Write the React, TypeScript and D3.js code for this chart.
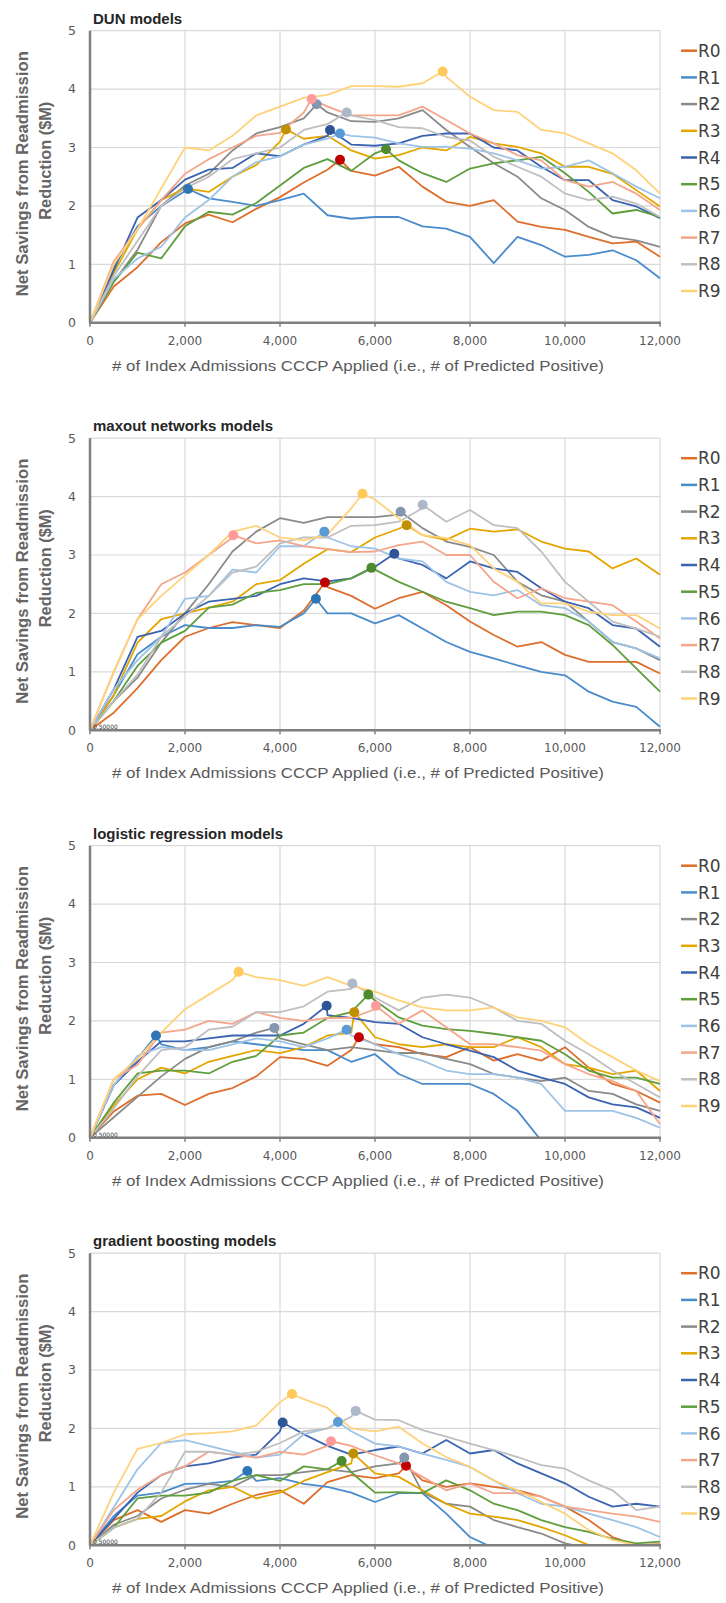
import React from "react";
import * as d3 from "d3";

// x grid shared by every series (# of predicted positive)
const xValues = [
  0, 500, 1000, 1500, 2000, 2500, 3000, 3500, 4000, 4500, 5000, 5500, 6000,
  6500, 7000, 7500, 8000, 8500, 9000, 9500, 10000, 10500, 11000, 11500, 12000,
];
const seriesNames = ["R0", "R1", "R2", "R3", "R4", "R5", "R6", "R7", "R8", "R9"];
const lineColors = [
  "#DD6E2B", "#4A8BCB", "#8A8A8A", "#E3A600", "#3A63B0",
  "#5E9E3C", "#9DC3E6", "#F4A58A", "#BFBFBF", "#FFD27A",
];
const markerColors = [
  "#C00000", "#2E75B6", "#8497B0", "#BF9000", "#2F5597",
  "#4E8A2E", "#5B9BD5", "#FF9B9B", "#ADB9CA", "#FFC95C",
];
const yTicks = [0, 1, 2, 3, 4, 5];
const xTicks = [0, 2000, 4000, 6000, 8000, 10000, 12000];
const panelTitles = [
  "DUN models",
  "maxout networks models",
  "logistic regression models",
  "gradient boosting models",
];

// DUN models
const dunValues = [
  [0, 0.62, 0.95, 1.38, 1.7, 1.85, 1.72, 1.95, 2.15, 2.4, 2.62, 2.6, 2.52, 2.67, 2.33, 2.07, 2.0, 2.1, 1.73, 1.64, 1.59, 1.47, 1.36, 1.39, 1.13],
  [0, 0.95, 1.65, 2.0, 2.25, 2.13, 2.07, 2.0, 2.1, 2.21, 1.84, 1.78, 1.81, 1.81, 1.65, 1.61, 1.47, 1.02, 1.47, 1.33, 1.13, 1.16, 1.24, 1.07, 0.76],
  [0, 0.7, 1.25, 2.0, 2.35, 2.55, 2.95, 3.24, 3.35, 3.5, 3.6, 3.45, 3.44, 3.5, 3.64, 3.3, 3.01, 2.73, 2.5, 2.13, 1.93, 1.64, 1.47, 1.41, 1.3],
  [0, 0.85, 1.6, 2.1, 2.3, 2.24, 2.5, 2.7, 3.1, 3.15, 3.2, 2.95, 2.81, 2.87, 3.0, 2.95, 3.18, 3.07, 3.01, 2.9, 2.67, 2.67, 2.55, 2.27, 1.99],
  [0, 0.9, 1.8, 2.1, 2.45, 2.62, 2.65, 2.9, 2.85, 3.05, 3.2, 3.05, 3.03, 3.07, 3.2, 3.24, 3.24, 3.0, 2.95, 2.67, 2.44, 2.44, 2.1, 1.99, 1.79],
  [0, 0.7, 1.2, 1.1, 1.65, 1.9, 1.85, 2.05, 2.35, 2.65, 2.8, 2.6, 2.9, 2.78, 2.56, 2.41, 2.64, 2.73, 2.78, 2.84, 2.56, 2.24, 1.87, 1.93, 1.81],
  [0, 0.75, 1.1, 1.3, 1.8, 2.1, 2.5, 2.75, 2.85, 3.05, 3.15, 3.2, 3.17, 3.07, 3.01, 3.01, 2.98, 2.9, 2.78, 2.64, 2.67, 2.78, 2.56, 2.33, 2.13],
  [0, 1.05, 1.6, 2.1, 2.55, 2.8, 3.0, 3.2, 3.25, 3.6, 3.7, 3.55, 3.55, 3.55, 3.7, 3.47, 3.24, 3.07, 2.87, 2.78, 2.44, 2.33, 2.41, 2.21, 1.93],
  [0, 0.8, 1.4, 2.0, 2.3, 2.5, 2.8, 2.9, 3.0, 3.3, 3.4, 3.55, 3.47, 3.35, 3.33, 3.18, 3.12, 2.84, 2.67, 2.5, 2.21, 2.1, 2.16, 2.04, 1.81],
  [0, 1.0, 1.6, 2.3, 3.0, 2.95, 3.2, 3.55, 3.7, 3.85, 3.9, 4.05, 4.05, 4.04, 4.1, 4.21, 3.87, 3.64, 3.61, 3.3, 3.24, 3.07, 2.9, 2.61, 2.21],
];
const dunPeakX = [5263, 2063, 4772, 4126, 5053, 6232, 5263, 4667, 5404, 7425];
const dunPeakY = [2.79, 2.29, 3.74, 3.31, 3.3, 2.97, 3.24, 3.83, 3.6, 4.3];

// maxout networks models
const maxoutValues = [
  [0, 0.3, 0.72, 1.2, 1.6, 1.75, 1.85, 1.8, 1.75, 2.05, 2.45, 2.3, 2.08, 2.26, 2.37, 2.14, 1.86, 1.63, 1.43, 1.51, 1.29, 1.17, 1.17, 1.17, 0.97],
  [0, 0.6, 1.3, 1.6, 1.8, 1.75, 1.75, 1.8, 1.77, 2.0, 2.0, 2.0, 1.83, 1.97, 1.74, 1.51, 1.34, 1.23, 1.11, 1.0, 0.94, 0.66, 0.49, 0.4, 0.06],
  [0, 0.5, 0.9, 1.5, 2.0, 2.5, 3.06, 3.4, 3.63, 3.55, 3.65, 3.65, 3.65, 3.69, 3.46, 3.23, 3.14, 3.0, 2.54, 2.31, 2.2, 1.86, 1.51, 1.4, 1.2],
  [0, 0.6, 1.5, 1.9, 2.0, 2.1, 2.2, 2.5, 2.57, 2.85, 3.1, 3.05, 3.3, 3.45, 3.34, 3.26, 3.45, 3.4, 3.44, 3.23, 3.11, 3.06, 2.77, 2.94, 2.66],
  [0, 0.7, 1.6, 1.7, 2.0, 2.2, 2.25, 2.3, 2.5, 2.6, 2.55, 2.6, 2.8, 2.94, 2.83, 2.6, 2.89, 2.77, 2.71, 2.43, 2.2, 2.09, 1.8, 1.74, 1.43],
  [0, 0.5, 1.1, 1.5, 1.7, 2.1, 2.15, 2.35, 2.4, 2.5, 2.5, 2.6, 2.75, 2.54, 2.37, 2.2, 2.09, 1.97, 2.03, 2.03, 1.97, 1.8, 1.46, 1.06, 0.66],
  [0, 0.7, 1.2, 1.6, 2.25, 2.3, 2.75, 2.7, 3.15, 3.15, 3.3, 3.15, 3.11, 2.94, 2.89, 2.54, 2.37, 2.31, 2.4, 2.14, 2.09, 1.86, 1.51, 1.4, 1.23],
  [0, 1.0, 1.9, 2.5, 2.7, 3.0, 3.3, 3.2, 3.25, 3.15, 3.1, 3.05, 3.06, 3.17, 3.23, 3.0, 3.0, 2.54, 2.26, 2.43, 2.26, 2.2, 2.14, 1.86, 1.57],
  [0, 0.5, 0.95, 1.6, 1.95, 2.3, 2.7, 2.8, 3.2, 3.3, 3.3, 3.5, 3.51, 3.57, 3.8, 3.57, 3.77, 3.51, 3.46, 3.06, 2.54, 2.2, 1.86, 1.74, 1.6],
  [0, 1.0, 1.9, 2.3, 2.65, 3.0, 3.4, 3.5, 3.3, 3.25, 3.35, 3.8, 3.95, 3.63, 3.34, 3.29, 3.17, 2.77, 2.54, 2.17, 2.17, 2.03, 1.97, 1.97, 1.74],
];
const maxoutPeakX = [4946, 4756, 6540, 6666, 6406, 5925, 4933, 3017, 7003, 5736];
const maxoutPeakY = [2.53, 2.25, 3.74, 3.51, 3.02, 2.78, 3.4, 3.34, 3.86, 4.05];

// logistic regression models
const logisticValues = [
  [0, 0.45, 0.72, 0.75, 0.56, 0.75, 0.85, 1.05, 1.38, 1.35, 1.23, 1.5, 1.6, 1.55, 1.43, 1.38, 1.55, 1.32, 1.43, 1.32, 1.55, 1.2, 0.92, 0.8, 0.6],
  [0, 0.9, 1.35, 1.6, 1.5, 1.55, 1.65, 1.6, 1.55, 1.5, 1.5, 1.3, 1.43, 1.09, 0.92, 0.92, 0.92, 0.75, 0.46, -0.05, null, null, null, null, null],
  [0, 0.35, 0.7, 1.05, 1.35, 1.55, 1.65, 1.8, 1.7, 1.6, 1.5, 1.55, 1.5, 1.45, 1.45, 1.35, 1.26, 1.09, 1.03, 0.97, 1.03, 0.8, 0.75, 0.57, 0.46],
  [0, 0.55, 1.0, 1.2, 1.1, 1.3, 1.4, 1.5, 1.45, 1.55, 1.75, 1.8, 1.72, 1.6, 1.55, 1.6, 1.55, 1.55, 1.72, 1.55, 1.26, 1.2, 1.09, 1.15, 0.8],
  [0, 0.9, 1.3, 1.65, 1.65, 1.7, 1.75, 1.75, 1.75, 1.95, 2.1, 2.05, 1.98, 1.95, 1.72, 1.6, 1.49, 1.38, 1.15, 1.03, 0.92, 0.69, 0.57, 0.52, 0.34],
  [0, 0.6, 1.1, 1.15, 1.15, 1.1, 1.3, 1.4, 1.75, 1.8, 2.05, 2.15, 2.35, 2.06, 1.92, 1.86, 1.83, 1.78, 1.72, 1.66, 1.43, 1.15, 1.03, 1.03, 0.92],
  [0, 0.9, 1.4, 1.55, 1.5, 1.5, 1.6, 1.7, 1.65, 1.55, 1.7, 1.75, 1.6, 1.43, 1.32, 1.15, 1.09, 1.09, 1.03, 0.92, 0.46, 0.46, 0.46, 0.34, 0.17],
  [0, 1.0, 1.25, 1.8, 1.85, 2.0, 1.95, 2.15, 2.05, 2.0, 2.05, 2.05, 2.2, 1.95, 2.18, 1.89, 1.6, 1.6, 1.55, 1.49, 1.26, 1.09, 0.97, 0.8, 0.23],
  [0, 0.5, 1.05, 1.5, 1.55, 1.85, 1.9, 2.15, 2.15, 2.25, 2.5, 2.55, 2.4, 2.18, 2.4, 2.45, 2.4, 2.23, 2.0, 1.95, 1.66, 1.43, 1.15, 0.92, 0.69],
  [0, 1.0, 1.35, 1.8, 2.2, 2.45, 2.7, 2.75, 2.7, 2.6, 2.75, 2.6, 2.5, 2.35, 2.23, 2.18, 2.18, 2.23, 2.06, 2.0, 1.89, 1.6, 1.38, 1.15, 0.97],
];
const logisticPeakX = [5662, 1389, 3880, 5564, 4982, 5859, 5403, 6020, 5522, 3130];
const logisticPeakY = [1.72, 1.75, 1.88, 2.15, 2.26, 2.45, 1.85, 2.26, 2.64, 2.84];

// gradient boosting models
const boostingValues = [
  [0, 0.43, 0.6, 0.4, 0.6, 0.54, 0.71, 0.86, 0.94, 0.71, 1.08, 1.2, 1.15, 1.23, 1.11, 1.0, 1.06, 1.0, 0.94, 0.83, 0.66, 0.43, 0.14, 0.0, 0.02],
  [0, 0.5, 0.85, 0.9, 1.05, 1.06, 1.1, 1.1, 1.15, 1.05, 1.0, 0.9, 0.74, 0.89, 0.89, 0.54, 0.14, -0.05, null, null, null, null, null, null, null],
  [0, 0.35, 0.5, 0.8, 0.95, 1.05, 1.0, 1.2, 1.2, 1.25, 1.3, 1.25, 1.35, 1.4, 0.9, 0.71, 0.66, 0.43, 0.31, 0.2, 0.03, -0.05, null, null, null],
  [0, 0.3, 0.45, 0.5, 0.75, 0.94, 1.0, 0.8, 0.9, 1.1, 1.25, 1.4, 1.23, 1.17, 0.94, 0.71, 0.54, 0.49, 0.43, 0.31, 0.17, 0.0, -0.05, null, null],
  [0, 0.45, 0.9, 1.2, 1.35, 1.4, 1.5, 1.55, 1.95, 1.9, 1.7, 1.55, 1.63, 1.69, 1.57, 1.8, 1.57, 1.63, 1.4, 1.23, 1.06, 0.83, 0.66, 0.71, 0.66],
  [0, 0.3, 0.8, 0.85, 0.85, 0.9, 1.1, 1.2, 1.1, 1.35, 1.3, 1.25, 0.9, 0.91, 0.89, 1.11, 0.94, 0.71, 0.6, 0.43, 0.31, 0.23, 0.11, 0.03, 0.06],
  [0, 0.65, 1.3, 1.75, 1.8, 1.7, 1.6, 1.5, 1.55, 1.9, 2.0, 1.95, 1.74, 1.69, 1.57, 1.46, 1.34, 1.11, 0.89, 0.71, 0.66, 0.54, 0.43, 0.31, 0.14],
  [0, 0.6, 0.95, 1.2, 1.35, 1.6, 1.55, 1.5, 1.6, 1.55, 1.7, 1.7, 1.54, 1.4, 1.17, 0.94, 1.06, 0.89, 0.89, 0.83, 0.66, 0.6, 0.54, 0.49, 0.4],
  [0, 0.3, 0.45, 0.9, 1.6, 1.6, 1.55, 1.6, 1.75, 1.95, 2.0, 2.2, 2.15, 2.14, 1.97, 1.86, 1.74, 1.63, 1.51, 1.37, 1.31, 1.11, 0.94, 0.6, 0.66],
  [0, 0.9, 1.65, 1.75, 1.9, 1.92, 1.95, 2.05, 2.45, 2.5, 2.35, 2.0, 1.95, 2.03, 1.74, 1.51, 1.34, 1.11, 0.94, 0.74, 0.54, 0.26, 0.09, 0.0, -0.05],
];
const boostingPeakX = [6652, 3312, 6617, 5543, 4056, 5298, 5220, 5073, 5593, 4252];
const boostingPeakY = [1.36, 1.27, 1.5, 1.57, 2.1, 1.44, 2.11, 1.78, 2.3, 2.59];

const panels = [
  { values: dunValues, peakX: dunPeakX, peakY: dunPeakY },
  { values: maxoutValues, peakX: maxoutPeakX, peakY: maxoutPeakY },
  { values: logisticValues, peakX: logisticPeakX, peakY: logisticPeakY },
  { values: boostingValues, peakX: boostingPeakX, peakY: boostingPeakY },
];

const width = 726;
const height = 1603;
const plotLeft = 90;
const plotRight = 660;
const plotH = 292;
const firstTop = 30.7;
const panelStep = 407.5;

type Pt = [number, number | null];

const Panel = ({ idx }: { idx: number }) => {
  const { values, peakX, peakY } = panels[idx];
  const top = firstTop + idx * panelStep;
  const bottom = top + plotH;
  const x = d3.scaleLinear().domain([0, 12000]).range([plotLeft, plotRight]);
  const y = d3.scaleLinear().domain([0, 5]).range([bottom, top]);
  const line = d3
    .line<Pt>()
    .defined((d) => d[1] != null)
    .x((d) => x(d[0]))
    .y((d) => y(d[1] as number));

  const clipId = `clip-${idx}`;

  const paths = values.map((vals, s) => {
    const pts: Pt[] = xValues.map((xv, i) => [xv, vals[i] ?? null]);
    // put the marked peak on the line itself
    const pos = pts.findIndex((p) => p[0] > peakX[s]);
    pts.splice(pos < 0 ? pts.length : pos, 0, [peakX[s], peakY[s]]);
    return (
      <path
        key={s}
        d={line(pts) || ""}
        fill="none"
        stroke={lineColors[s]}
        strokeWidth={1.8}
        strokeLinejoin="round"
      />
    );
  });

  return (
    <g>
      <defs>
        <clipPath id={clipId}>
          <rect x={plotLeft} y={top - 8} width={plotRight - plotLeft + 2} height={plotH + 8} />
        </clipPath>
      </defs>
      {yTicks.map((t) => (
        <line key={"gy" + t} x1={plotLeft} x2={plotRight} y1={y(t)} y2={y(t)} stroke="#D9D9D9" strokeWidth={1.2} />
      ))}
      {xTicks.map((t) => (
        <line key={"gx" + t} x1={x(t)} x2={x(t)} y1={top} y2={bottom} stroke="#D9D9D9" strokeWidth={1.2} />
      ))}
      <g clipPath={`url(#${clipId})`}>{paths}</g>
      {values.map((_, s) => (
        <circle key={"m" + s} cx={x(peakX[s])} cy={y(peakY[s])} r={5} fill={markerColors[s]} />
      ))}
      {idx > 0 && (
        <text x={93} y={bottom - 1} fontSize={6} fill="#333" fontFamily="DejaVu Sans">
          0.50000
        </text>
      )}
      <line x1={plotLeft} x2={plotLeft} y1={top} y2={bottom} stroke="#7F7F7F" strokeWidth={2.5} />
      <line x1={plotLeft - 1} x2={plotRight + 1} y1={bottom} y2={bottom} stroke="#7F7F7F" strokeWidth={2.5} />
      {xTicks.map((t) => (
        <line key={"tx" + t} x1={x(t)} x2={x(t)} y1={bottom} y2={bottom + 4} stroke="#7F7F7F" strokeWidth={1.5} />
      ))}
      {yTicks.map((t) => (
        <text key={"ly" + t} x={76} y={y(t)} dy="0.35em" textAnchor="end" fontSize={12.5} fill="#595959" fontFamily="DejaVu Sans">
          {t}
        </text>
      ))}
      {xTicks.map((t) => (
        <text key={"lx" + t} x={x(t)} y={bottom + 22} textAnchor="middle" fontSize={12} fill="#595959" fontFamily="DejaVu Sans">
          {d3.format(",")(t)}
        </text>
      ))}
      <text x={93} y={top - 7} fontSize={15} fontWeight="bold" fill="#262626" fontFamily="Liberation Sans">
        {panelTitles[idx]}
      </text>
      <text
        x={358}
        y={bottom + 48}
        textAnchor="middle"
        fontSize={15}
        fill="#595959"
        fontFamily="Liberation Sans"
        textLength={492}
        lengthAdjust="spacingAndGlyphs"
      >
        # of Index Admissions CCCP Applied (i.e., # of Predicted  Positive)
      </text>
      <text
        transform={`translate(28,${top + 143}) rotate(-90)`}
        textAnchor="middle"
        fontSize={16}
        fontWeight="bold"
        fill="#666666"
        fontFamily="Liberation Sans"
        textLength={245}
        lengthAdjust="spacingAndGlyphs"
      >
        Net Savings from  Readmission
      </text>
      <text
        transform={`translate(51,${top + 130}) rotate(-90)`}
        textAnchor="middle"
        fontSize={16}
        fontWeight="bold"
        fill="#666666"
        fontFamily="Liberation Sans"
        textLength={118}
        lengthAdjust="spacingAndGlyphs"
      >
        Reduction  ($M)
      </text>
      {seriesNames.map((name, s) => {
        const ly = top + 20 + s * 26.7;
        return (
          <g key={"lg" + s}>
            <line x1={681} x2={697} y1={ly} y2={ly} stroke={lineColors[s]} strokeWidth={2.5} />
            <text x={698} y={ly} dy="0.36em" fontSize={17} fill="#404040" fontFamily="DejaVu Sans">
              {name}
            </text>
          </g>
        );
      })}
    </g>
  );
};

const App = () => {
  return (
    <svg
      width={width}
      height={height}
      viewBox={`0 0 ${width} ${height}`}
      style={{ position: "absolute", left: 0, top: 0, background: "#fff" }}
    >
      <rect width={width} height={height} fill="#fff" />
      {panels.map((_, i) => (
        <Panel key={i} idx={i} />
      ))}
    </svg>
  );
};

export default App;
